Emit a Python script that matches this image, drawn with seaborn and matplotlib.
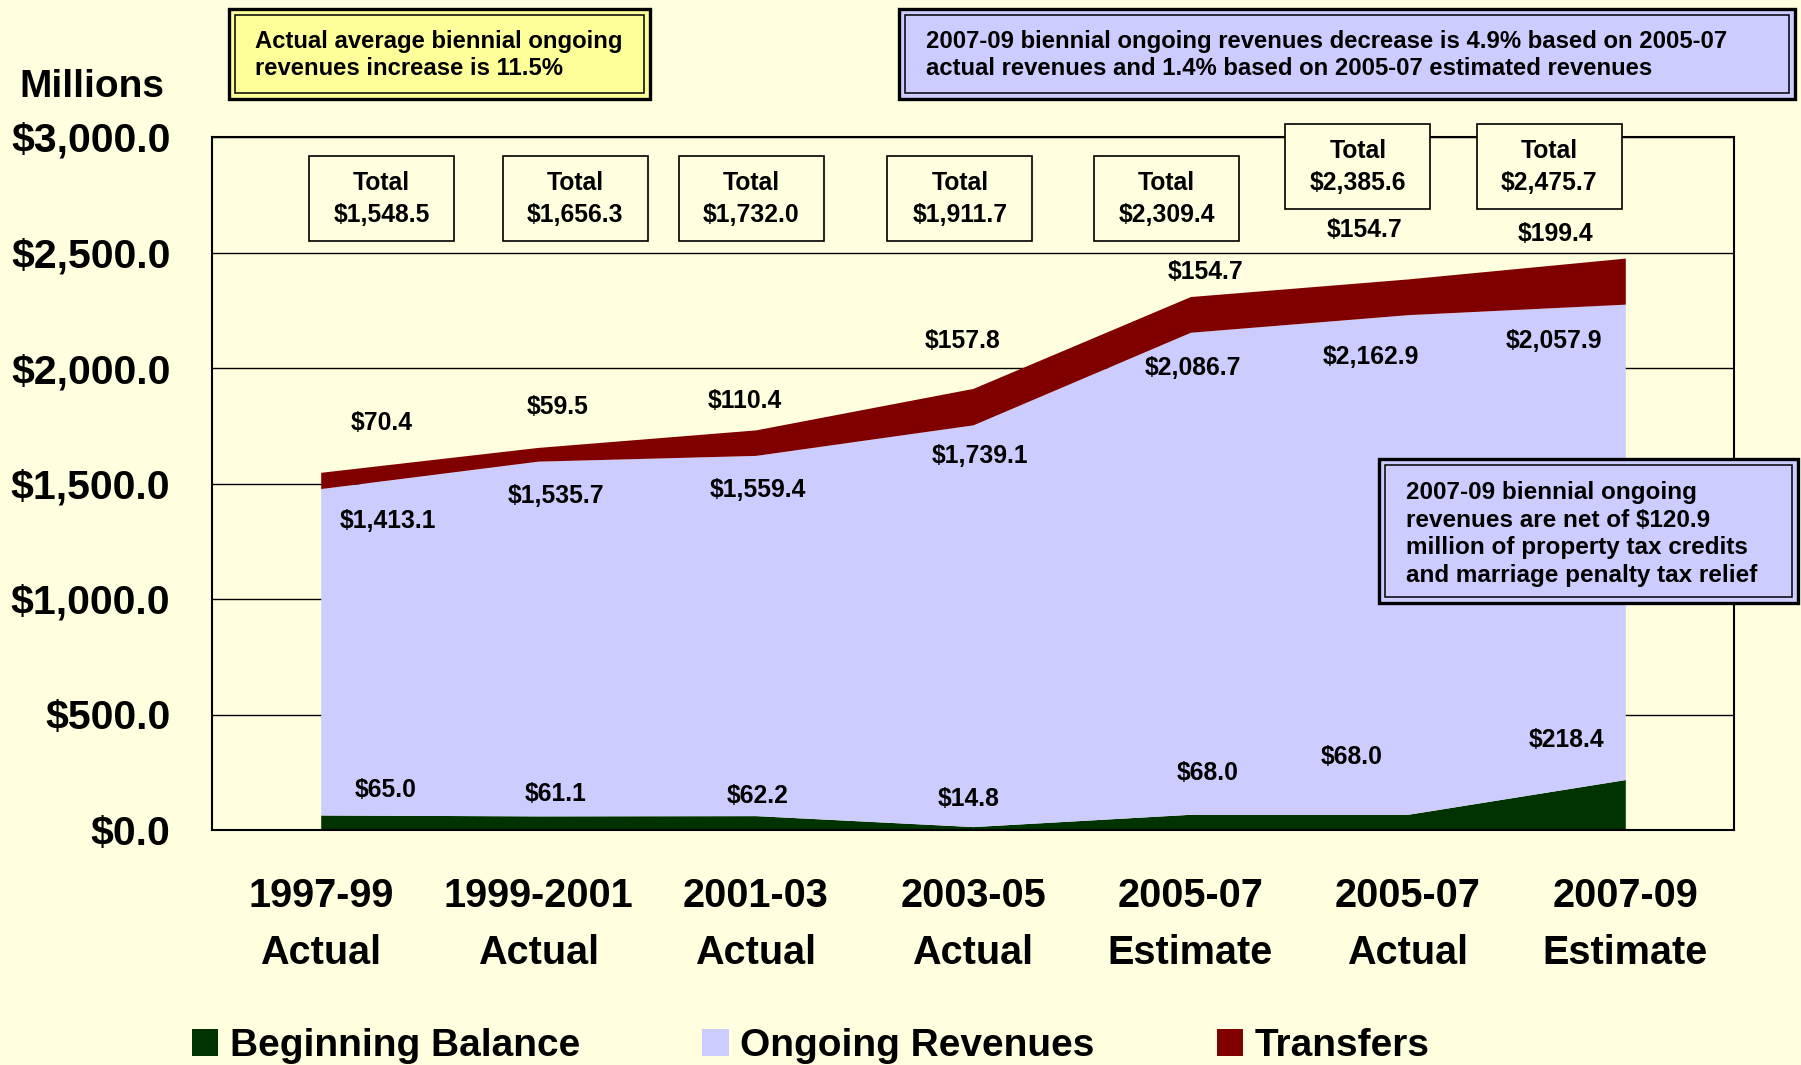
import numpy as np
import pandas as pd
import matplotlib
matplotlib.use("Agg")
import matplotlib.pyplot as plt
import seaborn as sns
from matplotlib.patches import Rectangle, Patch
from matplotlib.ticker import FuncFormatter

# ---------------- data ----------------
categories = ["1997-99\nActual", "1999-2001\nActual", "2001-03\nActual", "2003-05\nActual",
              "2005-07\nEstimate", "2005-07\nActual", "2007-09\nEstimate"]
beginning_balance = [65.0, 61.1, 62.2, 14.8, 68.0, 68.0, 218.4]
ongoing_revenues = [1413.1, 1535.7, 1559.4, 1739.1, 2086.7, 2162.9, 2057.9]
transfers = [70.4, 59.5, 110.4, 157.8, 154.7, 154.7, 199.4]
totals = [1548.5, 1656.3, 1732.0, 1911.7, 2309.4, 2385.6, 2475.7]
series_names = ["Beginning Balance", "Ongoing Revenues", "Transfers"]

# label placement (data coords)
transfer_lbl_x = [0.28, 1.09, 1.95, 2.95, 4.07, 4.80, 5.68]
transfer_lbl_y = [1763, 1833, 1858, 2116, 2414, 2598, 2578]
ongoing_lbl_x = [0.31, 1.08, 2.01, 3.03, 4.01, 4.83, 5.67]
ongoing_lbl_y = [1336, 1446, 1470, 1620, 2002, 2047, 2116]
balance_lbl_x = [0.30, 1.08, 2.01, 2.98, 4.08, 4.74, 5.73]
balance_lbl_y = [174, 154, 149, 134, 248, 318, 388]
total_box_x = [0.28, 1.17, 1.98, 2.94, 3.89, 4.77, 5.65]
total_box_y = [2732, 2732, 2732, 2732, 2732, 2871, 2871]

# ---------------- style ----------------
BG = "#FFFFE0"
C_GREEN = "#003300"
C_LAV = "#CCCCFF"
C_RED = "#800000"

sns.set_style("white")
plt.rcParams["font.family"] = ["Liberation Sans", "DejaVu Sans"]
plt.rcParams["font.weight"] = "bold"
for k in ["text.color", "axes.labelcolor", "xtick.color", "ytick.color"]:
    plt.rcParams[k] = "black"

W, H = 1801, 1065
fig = plt.figure(figsize=(W / 100, H / 100), dpi=100, facecolor=BG)
L, R, T, B = 212, 1734, 137, 830
ax = fig.add_axes([L / W, 1 - B / H, (R - L) / W, (B - T) / H])
ax.set_facecolor(BG)

df = pd.DataFrame({"x": np.arange(len(categories)),
                   series_names[0]: beginning_balance,
                   series_names[1]: ongoing_revenues,
                   series_names[2]: transfers})

ax.stackplot(df["x"], df[series_names[0]], df[series_names[1]], df[series_names[2]],
             colors=[C_GREEN, C_LAV, C_RED], linewidth=0, zorder=1)

ax.set_xlim(-0.5, len(categories) - 0.5)
ax.set_ylim(0, 3000)
ax.set_yticks(np.arange(0, 3001, 500))
ax.yaxis.set_major_formatter(FuncFormatter(lambda v, p: f"${v:,.1f}"))
ax.yaxis.grid(True, color="black", linewidth=1.0)
ax.set_axisbelow(True)

ax.set_xticks(np.arange(-0.5, len(categories), 1.0))
ax.set_xticklabels([])
ax.set_xticks(np.arange(len(categories)), minor=True)
ax.set_xticklabels(categories, minor=True)
ax.tick_params(axis="x", which="major", direction="out", length=8, width=1.2, color="black")
ax.tick_params(axis="x", which="minor", length=0, pad=34, labelsize=28.5, labelcolor="black")
ax.tick_params(axis="y", direction="out", length=6, width=1.2, color="black", pad=24,
               labelsize=29.5, labelcolor="black")
for lbl in ax.get_xticklabels(minor=True):
    lbl.set_linespacing(1.62)
    lbl.set_fontweight("bold")
for lbl in ax.get_yticklabels():
    lbl.set_fontweight("bold")

for s in ax.spines.values():
    s.set_visible(True)
    s.set_color("black")
    s.set_linewidth(1.5)

# data labels
fs_lbl = 17.8
for xs, ys, vals in [(transfer_lbl_x, transfer_lbl_y, transfers),
                     (ongoing_lbl_x, ongoing_lbl_y, ongoing_revenues),
                     (balance_lbl_x, balance_lbl_y, beginning_balance)]:
    for x, y, v in zip(xs, ys, vals):
        ax.text(x, y, f"${v:,.1f}", ha="center", va="center", fontsize=fs_lbl,
                fontweight="bold", color="black", zorder=5)

# total boxes
px_per_x = (R - L) / len(categories)
px_per_y = (B - T) / 3000
bw = 145 / px_per_x
bh = 85 / px_per_y
for x, y, v in zip(total_box_x, total_box_y, totals):
    ax.add_patch(Rectangle((x - bw / 2, y - bh / 2), bw, bh, facecolor=BG,
                           edgecolor="black", linewidth=1.2, zorder=6, clip_on=False))
    ax.text(x, y, f"Total\n${v:,.1f}", ha="center", va="center", fontsize=fs_lbl,
            fontweight="bold", color="black", linespacing=1.45, zorder=7, clip_on=False)

# y-axis title
fig.text(92 / W, 1 - 87 / H, "Millions", ha="center", va="center", fontsize=28,
         fontweight="bold", color="black")


def dbox(x0, y0, x1, y1, fc):
    fig.patches.append(Rectangle((x0 / W, 1 - y1 / H), (x1 - x0) / W, (y1 - y0) / H,
                                 transform=fig.transFigure, facecolor=fc,
                                 edgecolor="black", linewidth=2.4, zorder=8))
    d = 6
    fig.patches.append(Rectangle(((x0 + d) / W, 1 - (y1 - d) / H), (x1 - x0 - 2 * d) / W,
                                 (y1 - y0 - 2 * d) / H, transform=fig.transFigure,
                                 facecolor="none", edgecolor="black", linewidth=1.1,
                                 zorder=9))


dbox(229, 9, 650, 99, "#FFFF99")
fig.text(255 / W, 1 - 55 / H, "Actual average biennial ongoing\nrevenues increase is 11.5%",
         ha="left", va="center", fontsize=17.2, fontweight="bold", color="black",
         linespacing=1.25, zorder=10)

dbox(899, 9, 1795, 99, C_LAV)
fig.text(926 / W, 1 - 55 / H,
         "2007-09 biennial ongoing revenues decrease is 4.9% based on 2005-07\n"
         "actual revenues and 1.4% based on 2005-07 estimated revenues",
         ha="left", va="center", fontsize=17.2, fontweight="bold", color="black",
         linespacing=1.25, zorder=10)

dbox(1379, 459, 1798, 603, C_LAV)
fig.text(1406 / W, 1 - 534 / H,
         "2007-09 biennial ongoing\nrevenues are net of $120.9\n"
         "million of property tax credits\nand marriage penalty tax relief",
         ha="left", va="center", fontsize=17.5, fontweight="bold", color="black",
         linespacing=1.27, zorder=10)

# legend
handles = [Patch(facecolor=c, edgecolor="none") for c in [C_GREEN, C_LAV, C_RED]]
fig.legend(handles, series_names, loc="center left", bbox_to_anchor=(192 / W, 1 - 1046 / H),
           ncol=3, frameon=False, prop={"size": 28, "weight": "bold"},
           handlelength=0.67, handleheight=0.67, handletextpad=0.3, columnspacing=3.15,
           borderpad=0, borderaxespad=0)

fig.savefig("out.png", dpi=100, facecolor=BG)
